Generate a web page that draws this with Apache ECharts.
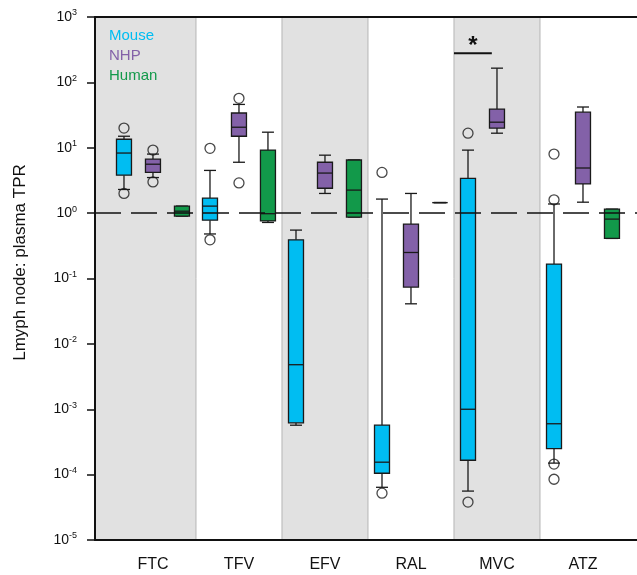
<!DOCTYPE html>
<html>
<head>
<meta charset="utf-8">
<script src="https://cdn.jsdelivr.net/npm/echarts@6/dist/echarts.min.js"></script>
<style>html,body{margin:0;padding:0;background:#fff}#c{width:637px;height:575px}</style>
</head>
<body>
<div id="c"></div>
<script>
// ---- data ----
const categories = ['FTC', 'TFV', 'EFV', 'RAL', 'MVC', 'ATZ'];
const groups = ['Mouse', 'NHP', 'Human'];
// box values per category: [lower whisker, Q1, median, Q3, upper whisker]
const mouseBox = [
  [2.3, 3.8, 8.3, 13.5, 15],
  [0.48, 0.78, 1.28, 1.7, 4.5],
  [5.7e-4, 6.2e-4, 4.8e-3, 0.39, 0.55],
  [6.4e-5, 1.05e-4, 1.55e-4, 5.7e-4, 1.64],
  [5.6e-5, 1.66e-4, 1.0e-3, 3.4, 9.2],
  [1.5e-4, 2.5e-4, 6.0e-4, 0.166, 1.38]
];
const nhpBox = [
  [3.5, 4.2, 5.6, 6.7, 8],
  [6.0, 15, 20.6, 34, 46],
  [2.0, 2.4, 4.1, 6.0, 7.7],
  [0.041, 0.074, 0.25, 0.68, 2.0],
  [16.7, 20, 24.6, 39, 165],
  [1.47, 2.8, 4.9, 35, 42]
];
const humanBox = [
  [0.9, 0.9, 1.07, 1.28, 1.28],
  [0.72, 0.76, 0.98, 9.2, 17.3],
  [0.87, 0.87, 2.25, 6.5, 6.5],
  [1.45, 1.45, 1.45, 1.45, 1.45],
  null,
  [0.41, 0.41, 0.81, 1.15, 1.15]
];
// outliers: [category index, value]
const mouseOut = [[0, 20], [0, 2.0], [1, 9.8], [1, 0.39], [3, 4.2], [3, 5.2e-5], [4, 16.7], [4, 3.8e-5], [5, 8.0], [5, 1.6], [5, 1.45e-4], [5, 8.5e-5]];
const nhpOut = [[0, 9.2], [0, 3.0], [1, 57], [1, 2.9]];
const humanOut = [];
const yTicksExp = [-5, -4, -3, -2, -1, 0, 1, 2, 3];
const refValue = 1;
const shadedCats = [0, 2, 4];
// significance bar (MVC, Mouse vs NHP)
const sigBar = { cat: 4, from: -0.5, to: -0.06, y: 280, labelY: 360, label: '*' };

// ---- layout/style ----
const colors = { Mouse: '#00bdf2', NHP: '#8361a8', Human: '#12994a' };
const offsets = { Mouse: -0.337, NHP: 0, Human: 0.337 };
const xMin = -0.674, xMax = 5.628;
const FONT = '"Liberation Sans", Arial, sans-serif';

function boxRenderer(color) {
  return function (params, api) {
    const x = api.value(0);
    const p = [1, 2, 3, 4, 5].map(k => api.coord([x, api.value(k)]));
    const cx = p[0][0];
    const bw = 15, cw = 12;
    const ls = { stroke: '#1a1a1a', lineWidth: 1.3 };
    return {
      type: 'group', children: [
        { type: 'line', shape: { x1: cx, y1: p[3][1], x2: cx, y2: p[4][1] }, style: ls },
        { type: 'line', shape: { x1: cx - cw / 2, y1: p[4][1], x2: cx + cw / 2, y2: p[4][1] }, style: ls },
        { type: 'line', shape: { x1: cx, y1: p[1][1], x2: cx, y2: p[0][1] }, style: ls },
        { type: 'line', shape: { x1: cx - cw / 2, y1: p[0][1], x2: cx + cw / 2, y2: p[0][1] }, style: ls },
        { type: 'rect', shape: { x: cx - bw / 2, y: p[3][1], width: bw, height: p[1][1] - p[3][1] }, style: { fill: color, stroke: '#1a1a1a', lineWidth: 1.3 } },
        { type: 'line', shape: { x1: cx - bw / 2, y1: p[2][1], x2: cx + bw / 2, y2: p[2][1] }, style: ls }
      ]
    };
  };
}

const boxData = { Mouse: mouseBox, NHP: nhpBox, Human: humanBox };
const outData = { Mouse: mouseOut, NHP: nhpOut, Human: humanOut };

const series = [];
series.push({
  type: 'custom', name: 'bands', silent: true, z: 1,
  data: shadedCats.map(i => [i === 0 ? xMin : i - 0.5, i + 0.5]),
  encode: { x: [0, 1] },
  renderItem: (params, api) => {
    const a = api.coord([api.value(0), 1])[0];
    const b = api.coord([api.value(1), 1])[0];
    const cs = params.coordSys;
    return { type: 'rect', shape: { x: a, y: cs.y, width: b - a, height: cs.height }, style: { fill: '#e1e1e1', stroke: '#b5b5b5', lineWidth: 1 } };
  }
});
groups.forEach(g => {
  const d = [];
  boxData[g].forEach((v, i) => { if (v) d.push([i + offsets[g]].concat(v)); });
  series.push({
    type: 'custom', name: g, z: 3, silent: true,
    data: d, encode: { x: 0, y: [1, 2, 3, 4, 5] },
    renderItem: boxRenderer(colors[g])
  });
});
groups.forEach(g => {
  series.push({
    type: 'scatter', name: g, z: 5, silent: true,
    symbol: 'circle', symbolSize: 10,
    itemStyle: { color: 'rgba(0,0,0,0)', borderColor: '#1a1a1a', borderWidth: 1.3 },
    data: outData[g].map(o => [o[0] + offsets[g], o[1]])
  });
});
series.push({
  type: 'line', name: 'ref', data: [], z: 6, silent: true,
  markLine: {
    silent: true, symbol: 'none', label: { show: false },
    lineStyle: { color: '#111', width: 1.5, type: [26, 10] },
    data: [{ yAxis: refValue }]
  }
});
series.push({
  type: 'custom', name: 'sig', z: 6, silent: true,
  data: [[sigBar.cat + sigBar.from, sigBar.cat + sigBar.to, sigBar.y, sigBar.labelY]],
  encode: { x: [0, 1], y: [2, 3] },
  renderItem: (params, api) => {
    const a = api.coord([api.value(0), api.value(2)]);
    const b = api.coord([api.value(1), api.value(2)]);
    const t = api.coord([(api.value(0) + api.value(1)) / 2, api.value(3)]);
    return {
      type: 'group', children: [
        { type: 'line', shape: { x1: a[0], y1: a[1], x2: b[0], y2: b[1] }, style: { stroke: '#111', lineWidth: 2 } },
        { type: 'text', x: t[0], y: t[1], style: { text: sigBar.label, fontSize: 24, fontWeight: 'bold', fontFamily: FONT, fill: '#111', align: 'center', verticalAlign: 'middle' } }
      ]
    };
  }
});

const chart = echarts.init(document.getElementById('c'), null, { renderer: 'canvas' });
chart.setOption({
  animation: false,
  backgroundColor: '#fff',
  textStyle: { fontFamily: FONT },
  grid: { left: 95, right: 0, top: 17, bottom: 35, containLabel: false },
  legend: {
    orient: 'vertical', left: 99, top: 23, icon: 'none', itemWidth: 0, itemHeight: 14, itemGap: 5,
    selectedMode: false,
    textStyle: { fontSize: 15, fontFamily: FONT },
    data: groups.map(g => ({ name: g, textStyle: { color: colors[g] } }))
  },
  xAxis: [{
    type: 'value', min: xMin, max: xMax, z: 10,
    axisLine: { show: true, onZero: false, lineStyle: { color: '#111', width: 2 } },
    axisTick: { show: false }, splitLine: { show: false },
    axisLabel: {
      customValues: categories.map((c, i) => i), margin: 17,
      fontSize: 16, color: '#111', fontFamily: FONT,
      formatter: v => categories[Math.round(v)]
    }
  }, {
    type: 'value', min: xMin, max: xMax, position: 'top', z: 10,
    axisLine: { show: true, onZero: false, lineStyle: { color: '#111', width: 2 } },
    axisTick: { show: false }, splitLine: { show: false }, axisLabel: { show: false }
  }],
  yAxis: {
    type: 'log', logBase: 10, min: 1e-5, max: 1e3, z: 10, position: 'left',
    name: 'Lmyph node: plasma TPR', nameLocation: 'middle', nameGap: 66, nameRotate: 90,
    nameTextStyle: { fontSize: 17, color: '#111', fontFamily: FONT, padding: [0, 0, 0, 32] },
    axisLine: { show: true, onZero: false, lineStyle: { color: '#111', width: 2 } },
    axisTick: { show: true, inside: false, length: 8, lineStyle: { color: '#111', width: 1.5 } },
    splitLine: { show: false },
    axisLabel: {
      margin: 18,
      customValues: yTicksExp.map(e => Math.pow(10, e)),
      formatter: v => { const e = Math.round(Math.log10(v)); return '{b|10}{s|' + e + '}'; },
      rich: {
        b: { fontSize: 14, color: '#111', fontFamily: FONT },
        s: { fontSize: 9, color: '#111', fontFamily: FONT, padding: [0, 0, 8, 0] }
      }
    }
  },
  series: series
});
</script>
</body>
</html>
